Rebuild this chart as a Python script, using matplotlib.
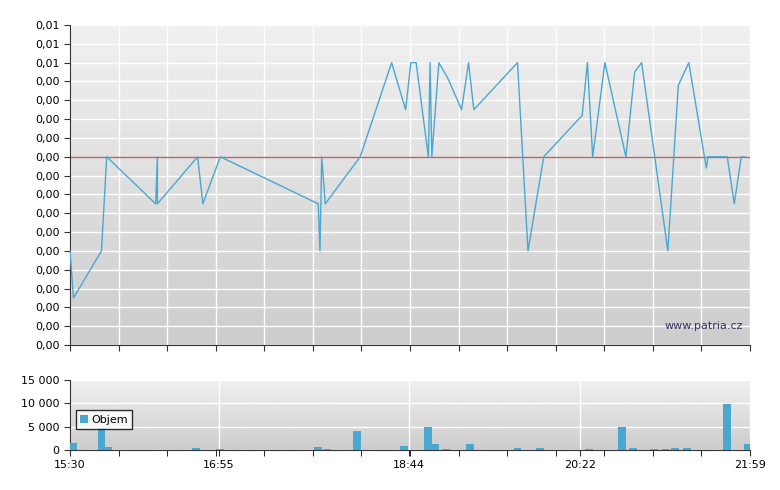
import matplotlib.pyplot as plt
import numpy as np

# minutes after 15:30, price in grid units (tick i = level i)
line_t = [0, 2, 18, 21, 49, 50, 50, 73, 76, 86, 142, 143, 144, 146, 166, 184, 192, 195, 198, 205,
          206, 207, 211, 216, 224, 228, 231, 256, 262, 271, 293, 296, 299, 306, 318, 323, 327, 342,
          348, 354, 364, 365, 376, 380, 384, 386]
line_v = [5, 2.5, 5, 10, 7.5, 10, 7.5, 10, 7.5, 10, 7.5, 5, 10, 7.5, 10, 15, 12.5, 15, 15, 10,
          15, 10, 15, 14.2, 12.5, 15, 12.5, 15, 5, 10, 12.2, 15, 10, 15, 10, 14.5, 15, 5,
          13.8, 15, 9.4, 10, 10, 7.5, 10, 10]
ref_level = 10
y_labels = ['0,00'] * 15 + ['0,01'] * 3

vol_t = [2, 18, 22, 72, 86, 142, 147, 164, 191, 205, 209, 215, 229, 256, 269, 297, 316, 322, 334, 341, 346, 353, 376, 388]
vol_v = [1500, 4800, 600, 500, 300, 700, 200, 4100, 900, 5000, 1300, 300, 1300, 500, 500, 200, 5000, 400, 200, 300, 500, 500, 9900, 1300]

tick_pos = [0, 85, 194, 292, 389]
tick_lab = ['15:30', '16:55', '18:44', '20:22', '21:59']
minor = np.linspace(0, 389, 15)

fig = plt.figure(figsize=(7.8, 4.9), dpi=100, facecolor='white')
ax = fig.add_axes([70/780, 145/490, 680/780, 320/490])
ax2 = fig.add_axes([70/780, 40/490, 680/780, 70/490])

for a, top in [(ax, 17), (ax2, 15000)]:
    grad = np.linspace(0.8, 0.94, 100).reshape(-1, 1)
    a.imshow(grad, cmap='gray', vmin=0, vmax=1, aspect='auto', origin='lower',
             extent=[0, 389, 0, top], zorder=0)
    a.set_xlim(0, 389)
    a.set_ylim(0, top)
    a.grid(True, color='white', lw=1, zorder=1)
    a.tick_params(labelsize=8, direction='out', length=4, color='#333333')
    for s in a.spines.values():
        s.set_color('#333333')
    a.spines['right'].set_visible(False)
    a.spines['top'].set_visible(False)

ax.set_xticks(minor)
ax.set_yticks(range(18))
ax.set_yticklabels(y_labels)
ax.set_xticklabels([])
ax.axhline(ref_level, color='#c06060', lw=1, zorder=2)
ax.plot(line_t, line_v, color='#4aa8d0', lw=1, zorder=3)
ax.text(0.99, 0.05, 'www.patria.cz', transform=ax.transAxes, ha='right', fontsize=8, color='#333366')

ax2.bar(vol_t, vol_v, width=4.5, color='#4aa8d0', zorder=3, label='Objem')
ax2.set_yticks([0, 5000, 10000, 15000])
ax2.set_yticklabels(['0', '5 000', '10 000', '15 000'])
ax2.set_xticks(tick_pos)
ax2.set_xticklabels(tick_lab)
ax2.set_xticks(minor, minor=True)
ax2.tick_params(which='minor', length=4)
ax2.legend(loc='upper left', bbox_to_anchor=(0.0, 0.65), fontsize=8, frameon=True, fancybox=False,
           edgecolor='black', handlelength=0.7, handletextpad=0.3, borderpad=0.4)

fig.savefig('out.png', dpi=100)
